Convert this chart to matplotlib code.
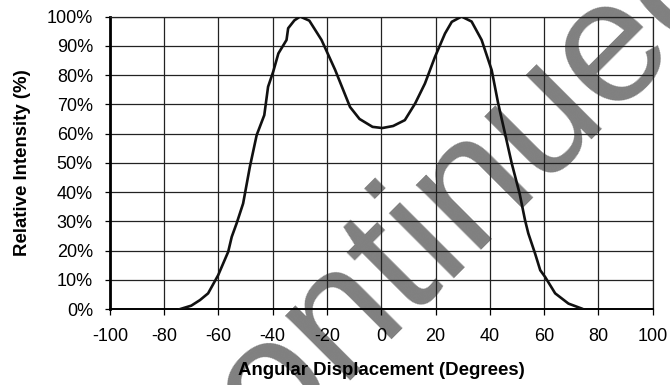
import matplotlib.pyplot as plt

plt.rcParams["font.family"] = ["Liberation Sans", "DejaVu Sans"]
plt.rcParams["axes.unicode_minus"] = False

# ======================================================
# Data
# ======================================================

angle_deg = [
    -74.2, -70.0, -66.8, -63.8, -60.1, -56.4, -55.1, -53.3, -50.9, -48.4,
    -45.9, -43.1, -41.7, -39.8, -37.9, -34.9, -34.3, -32.0, -29.9, -26.5,
    -22.0, -17.0, -11.5, -8.0, -3.2, 0.4, 4.4, 8.7, 12.5, 16.1,
    19.8, 23.5, 26.0, 29.6, 33.3, 37.0, 40.7, 43.1, 45.6, 48.1,
    51.0, 53.0, 54.2, 56.7, 58.6, 60.4, 64.1, 69.0, 73.9,
]
intensity_pct = [
    0.0, 1.2, 3.1, 5.4, 11.6, 19.6, 24.7, 29.3, 36.1, 48.7,
    59.5, 66.3, 76.0, 81.2, 87.4, 92.0, 96.0, 98.7, 100.0, 98.6,
    92.0, 81.8, 69.1, 65.0, 62.3, 61.9, 62.6, 64.6, 70.3, 77.1,
    86.2, 94.2, 98.2, 100.0, 98.3, 92.0, 81.7, 70.3, 60.1, 49.8,
    39.5, 30.4, 25.9, 19.0, 13.3, 11.0, 5.4, 1.9, 0.2,
]

x_ticks = [-100, -80, -60, -40, -20, 0, 20, 40, 60, 80, 100]
y_ticks = [0, 10, 20, 30, 40, 50, 60, 70, 80, 90, 100]
y_tick_labels = [f"{v}%" for v in y_ticks]

# ======================================================
# Plot
# ======================================================

fig = plt.figure(figsize=(6.7, 3.85), dpi=100)
ax = fig.add_axes([0.164, 0.197, 0.974 - 0.164, 0.957 - 0.197])
ax.set_facecolor("none")

# watermark sits behind everything
fig.text(
    0.577, 0.144, "Discontinued",
    rotation=45, rotation_mode="anchor",
    ha="center", va="baseline",
    fontsize=126, color="#808080", zorder=-1,
)

ax.plot(angle_deg, intensity_pct, color="#111111", linewidth=1.9, zorder=3)

ax.set_xlim(-100, 100)
ax.set_ylim(0, 100)
ax.set_xticks(x_ticks)
ax.set_yticks(y_ticks)
ax.set_yticklabels(y_tick_labels)

ax.grid(True, color="#222222", linewidth=0.9)

for side in ["top", "right"]:
    ax.spines[side].set_color("#222222")
    ax.spines[side].set_linewidth(0.9)
ax.spines["left"].set_linewidth(2.0)
ax.spines["bottom"].set_linewidth(1.4)

ax.tick_params(axis="x", length=4.3, width=0.9, pad=9.5, labelsize=13)
ax.tick_params(axis="y", length=3.6, width=0.9, pad=8.6, labelsize=13)

ax.set_xlabel("Angular Displacement (Degrees)", fontsize=13.4,
              fontweight="bold", labelpad=12)
ax.set_ylabel("Relative Intensity (%)", fontsize=13.4,
              fontweight="bold")
ax.yaxis.set_label_coords(-0.145, 0.5)

fig.savefig("out.png", dpi=100, facecolor="white")
